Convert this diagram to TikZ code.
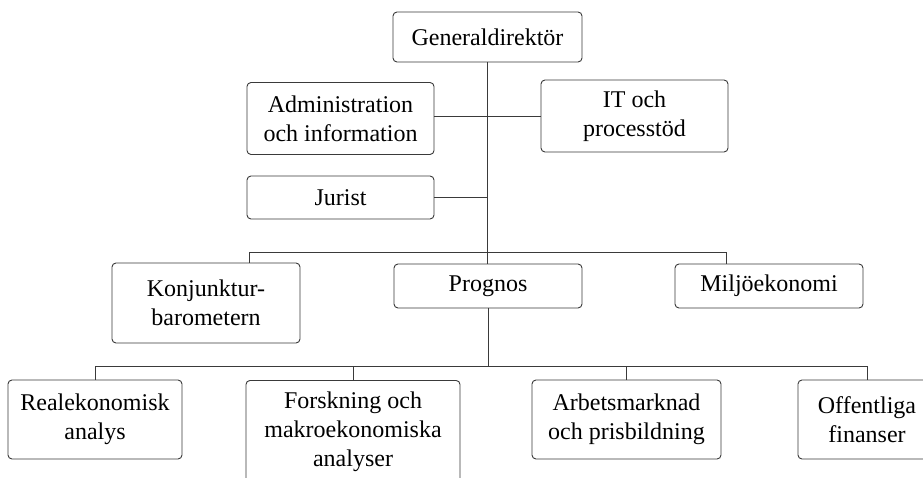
\documentclass[tikz,border=0pt]{standalone}
\usepackage{fontspec}
\setmainfont{Liberation Serif}
\definecolor{linegray}{HTML}{3A3A3A}
\begin{document}
\begin{tikzpicture}[x=1pt,y=-1pt,
  box/.style={draw=linegray,line width=0.9pt,rounded corners=4pt,fill=white,
    align=center,inner sep=0pt,font=\fontsize{24}{29}\selectfont,text=black},
  conn/.style={draw=linegray,line width=0.9pt}]
\useasboundingbox (0,0) rectangle (923,478);
\clip (0,0) rectangle (923,478);
\fill[white] (0,0) rectangle (923,478);
% nodes
\node[box,minimum width=189pt,minimum height=50pt] (gd) at (487.5,37) {Generaldirektör};
\node[box,minimum width=187pt,minimum height=72pt] (adm) at (340.5,118.5) {Administration\\och information};
\node[box,minimum width=187pt,minimum height=72pt] (it) at (634.5,116) {IT och\\processtöd};
\node[box,minimum width=187pt,minimum height=43pt] (jur) at (340.5,197.5) {Jurist};
\node[box,minimum width=188pt,minimum height=80pt] (kon) at (206,303) {Konjunktur-\\barometern};
\node[box,minimum width=188pt,minimum height=44pt] (prog) at (488,286) {Prognos};
\node[box,minimum width=188pt,minimum height=44pt] (milj) at (769,286) {Miljöekonomi};
\node[box,minimum width=174pt,minimum height=79pt] (real) at (95,419.5) {Realekonomisk\\analys};
\node[box,minimum width=214pt,anchor=north] (fors) at (353,380) {\rule{0pt}{28pt}Forskning och\\makroekonomiska\\analyser\rule[-22pt]{0pt}{22pt}};
\node[box,minimum width=189pt,minimum height=79pt] (arb) at (626.5,419.5) {Arbetsmarknad\\och prisbildning};
\node[box,minimum width=138pt,minimum height=79pt] (off) at (867,419.5) {Offentliga\\finanser};
% bus coordinates
\coordinate (busL) at (249,252);
\coordinate (busR) at (726,252);
\coordinate (bus2) at (488,366);
% connectors
\draw[conn] (gd.south) -- (gd.south |- prog.north);
\draw[conn] (adm.east |- it.west) -- (it.west);
\draw[conn] (jur.east) -- (jur.east -| gd.south);
\draw[conn] (busL |- kon.north) -- (busL) -- (busR) -- (busR |- milj.north);
\draw[conn] (prog.south) -- (bus2);
\draw[conn] (real.north) -- (real.north |- bus2) -- (off.north |- bus2) -- (off.north);
\draw[conn] (fors.north) -- (fors.north |- bus2);
\draw[conn] (arb.north) -- (arb.north |- bus2);
\end{tikzpicture}
\end{document}
